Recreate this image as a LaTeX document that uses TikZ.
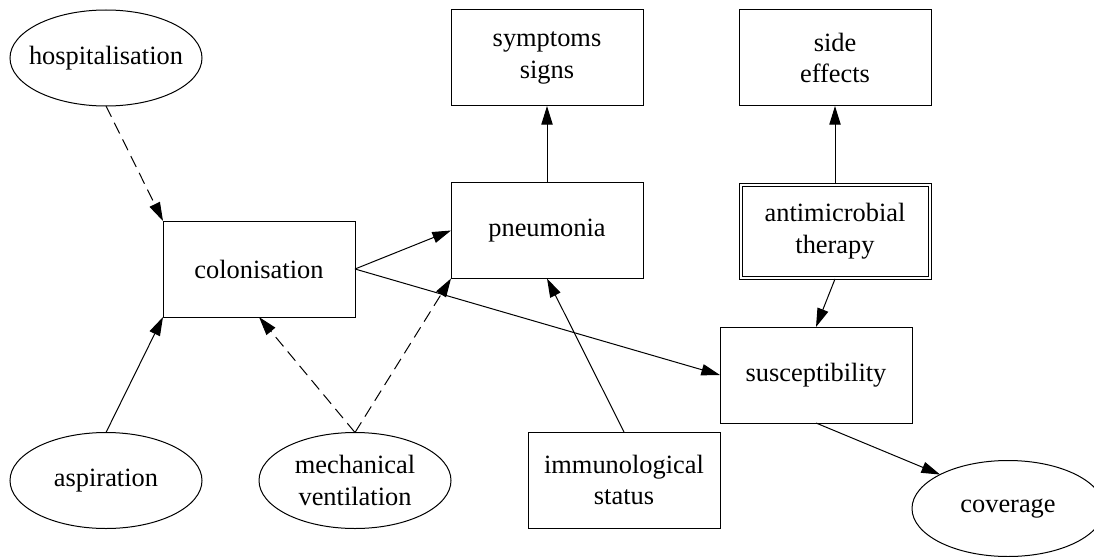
\documentclass[tikz,border=0pt]{standalone}
\usepackage{fontspec}
\setmainfont{Liberation Serif}
\usetikzlibrary{arrows.meta,shapes.geometric}
\tikzset{
  base/.style={draw=black, line width=0.75pt, inner sep=0pt, outer sep=0pt,
    minimum width=144pt, minimum height=72pt, align=center,
    font=\fontsize{19.8}{23.8}\selectfont},
  boxnode/.style={base, rectangle},
  ellnode/.style={base, ellipse, inner xsep=-40pt, inner ysep=-14pt},
  conn/.style={line width=0.75pt, -{Triangle[length=14pt,width=8.5pt]}},
  dconn/.style={conn, dash pattern=on 9pt off 5pt},
}
\begin{document}
\begin{tikzpicture}[x=0.75pt,y=-0.75pt]
\useasboundingbox (0,0) rectangle (1094,556);
\node[ellnode] (hosp) at (106,58) {hospitalisation};
\node[boxnode] (symp) at (547,58) {symptoms\\signs};
\node[boxnode] (side) at (835,58) {side\\effects};
\node[boxnode] (colon) at (259,269) {colonisation};
\node[boxnode] (pneu) at (547,230.5) {pneumonia};
\node[boxnode] (anti) at (835,231) {antimicrobial\\therapy};
\draw[line width=0.75pt] ([shift={(2.25pt,-2.25pt)}]anti.north west) rectangle ([shift={(-2.25pt,2.25pt)}]anti.south east);
\node[boxnode] (susc) at (816,375) {susceptibility};
\node[ellnode] (asp) at (106,480.5) {aspiration};
\node[ellnode] (mech) at (355,480.5) {mechanical\\ventilation};
\node[boxnode] (immu) at (624,480) {immunological\\status};
\node[ellnode] (cov) at (1008,508.5) {coverage};

\draw[dconn] (hosp.south) -- (colon.north west);
\draw[conn] (asp.north) -- (colon.south west);
\draw[dconn] (mech.north) -- (colon.south);
\draw[dconn] (mech.north) -- (pneu.south west);
\draw[conn] (colon.east) -- (pneu.west);
\draw[conn] (colon.east) -- (susc.west);
\draw[conn] (immu.north) -- (pneu.south);
\draw[conn] (pneu.north) -- (symp.south);
\draw[conn] (anti.north) -- (side.south);
\draw[conn] (anti.south) -- (susc.north);
\draw[conn] (susc.south) -- (cov.north west);
\end{tikzpicture}
\end{document}
